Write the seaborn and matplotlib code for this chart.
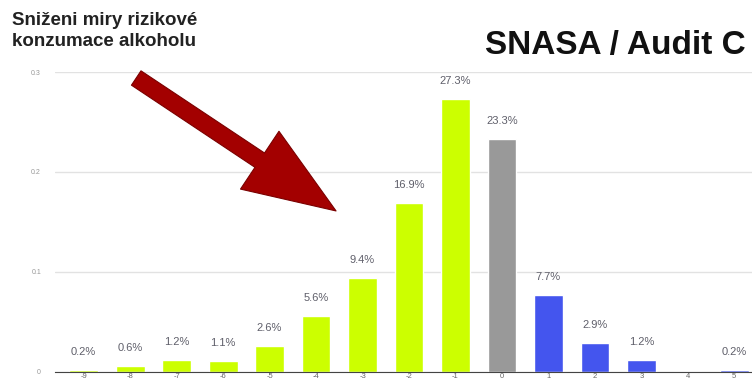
import matplotlib
matplotlib.use("Agg")
import matplotlib.pyplot as plt
import seaborn as sns
import pandas as pd

# score change categories and share of respondents
categories = ["-9", "-8", "-7", "-6", "-5", "-4", "-3", "-2", "-1", "0", "1", "2", "3", "4", "5"]
shares = [0.002, 0.006, 0.012, 0.011, 0.026, 0.056, 0.094, 0.169, 0.273, 0.233, 0.077, 0.029, 0.012, 0.0, 0.002]
labels = ["0.2%", "0.6%", "1.2%", "1.1%", "2.6%", "5.6%", "9.4%", "16.9%", "27.3%", "23.3%", "7.7%", "2.9%", "1.2%", "", "0.2%"]
colors = ["#ccff00"] * 9 + ["#999999"] + ["#4455ee"] * 5
yticks = [0, 0.1, 0.2, 0.3]
ytick_labels = ["0", "0.1", "0.2", "0.3"]

sns.set_style("white")
plt.rcParams["font.family"] = ["Liberation Sans", "DejaVu Sans"]

df = pd.DataFrame({"change": categories, "share": shares})

fig = plt.figure(figsize=(7.52, 3.83), dpi=100)
ax = fig.add_axes([0.073, 0.029, 0.927, 0.783])
sns.barplot(data=df, x="change", y="share", hue="change", palette=colors,
            legend=False, width=0.62, saturation=1, ax=ax)

ax.set_xlim(-0.62, 14.38)
ax.set_ylim(0, 0.3)
ax.set_yticks(yticks)
ax.set_yticklabels(ytick_labels, fontsize=5, color="#999999")
ax.tick_params(axis="y", length=4, color="#bbbbbb", pad=6)
ax.tick_params(axis="x", length=0, labelsize=5.5, labelcolor="#666666", pad=1)
ax.yaxis.grid(True, color="#e2e2e2", linewidth=1)
ax.set_axisbelow(True)
for side in ["top", "right", "left"]:
    ax.spines[side].set_visible(False)
ax.spines["bottom"].set_color("#444444")
ax.set_xlabel("")
ax.set_ylabel("")

for i, (v, lab) in enumerate(zip(shares, labels)):
    if lab:
        ax.text(i, v + 0.013, lab, ha="center", va="bottom", fontsize=8, color="#5f5f6a")

# arrow
ax.annotate("", xy=(5.43, 0.161), xytext=(1.13, 0.294), xycoords="data",
            annotation_clip=False,
            arrowprops=dict(arrowstyle="simple,head_length=3.3,head_width=2.5,tail_width=0.62",
                            mutation_scale=20, facecolor="#a30000", edgecolor="#7a0000",
                            linewidth=0.8, shrinkA=0, shrinkB=0))

fig.text(0.016, 0.968, "Sniženi miry rizikové\nkonzumace alkoholu", ha="left", va="top",
         fontsize=13.5, fontweight="bold", color="#222222", linespacing=1.25)
fig.text(0.992, 0.882, "SNASA / Audit C", ha="right", va="center",
         fontsize=24, fontweight="bold", color="#111111")

fig.savefig("out.png", dpi=100)
